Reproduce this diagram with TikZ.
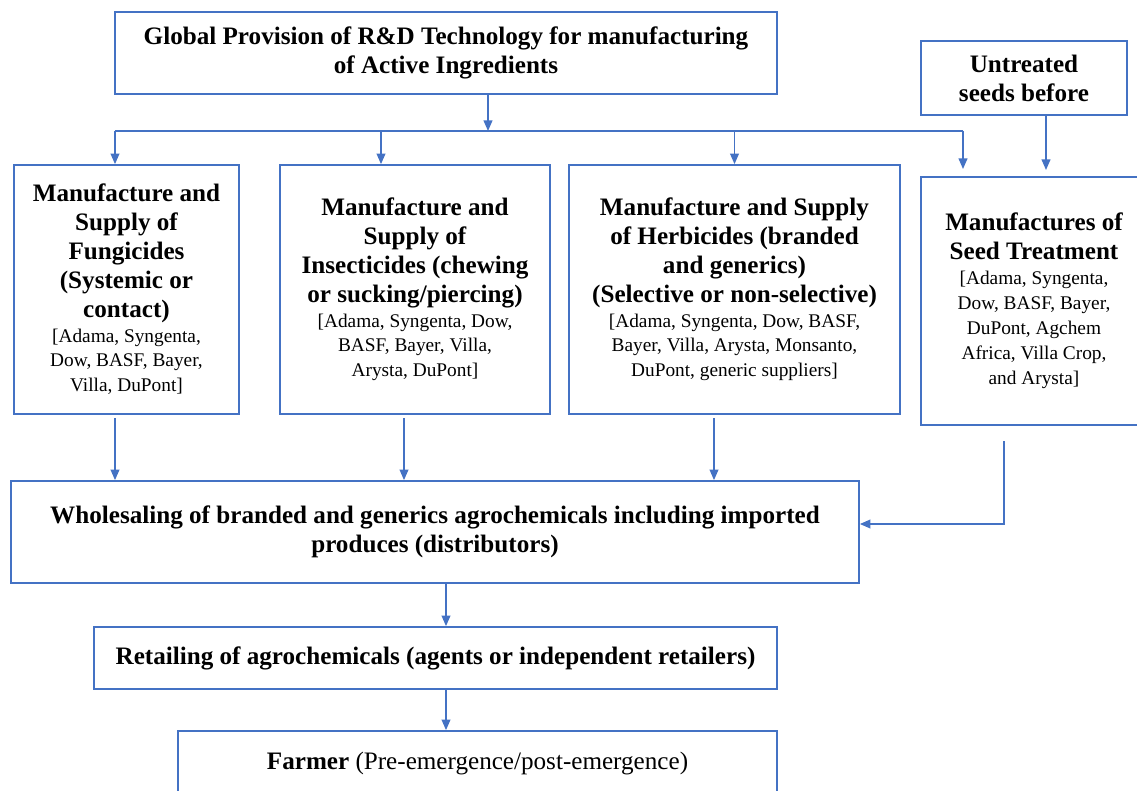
\documentclass[tikz,border=0pt]{standalone}
\usepackage{fontspec}
\setmainfont{Liberation Serif}
\usetikzlibrary{arrows.meta}
\definecolor{flowblue}{RGB}{68,114,196}
\newcommand{\supplierfont}{\mdseries\fontsize{11}{14.2}\selectfont}

\begin{document}
\begin{tikzpicture}[
      font=\bfseries\fontsize{14.3}{16.4}\selectfont,
      box/.style={draw=flowblue, line width=1pt, inner sep=0pt, align=flush center},
      link/.style={-{Triangle[length=6pt,width=5pt]}, draw=flowblue, line width=0.8pt},
      bar/.style={draw=flowblue, line width=0.8pt}
    ]
      \useasboundingbox (0,0) rectangle (22.74,-15.82);
      \node[box, minimum width=13.24cm, minimum height=1.64cm, text width=13cm] (top) at (8.92,-1.06) {Global Provision of R\&D Technology for manufacturing\\ of Active Ingredients};
      \node[box, minimum width=4.12cm, minimum height=1.48cm, text width=4cm] (untreated) at (20.48,-1.56) {Untreated\\ seeds before};
      \node[box, minimum width=4.5cm, minimum height=4.98cm, text width=4.4cm] (fung) at (2.53,-5.79) {Manufacture and\\ Supply of\\ Fungicides\\ (Systemic or\\ contact)\par \supplierfont [Adama, Syngenta,\\ Dow, BASF, Bayer,\\ Villa, DuPont]\par};
      \node[box, minimum width=5.4cm, minimum height=4.98cm, text width=5.3cm] (insect) at (8.30,-5.79) {Manufacture and\\ Supply of\\ Insecticides (chewing\\ or sucking/piercing)\par \supplierfont [Adama, Syngenta, Dow,\\ BASF, Bayer, Villa,\\ Arysta, DuPont]\par};
      \node[box, minimum width=6.62cm, minimum height=4.98cm, text width=6.5cm] (herb) at (14.69,-5.79) {Manufacture and Supply\\ of Herbicides (branded\\ and generics)\\ (Selective or non-selective)\par \supplierfont [Adama, Syngenta, Dow, BASF,\\ Bayer, Villa, Arysta, Monsanto,\\ DuPont, generic suppliers]\par};
      \node[box, minimum width=4.52cm, minimum height=4.96cm, text width=4.4cm] (seed) at (20.68,-6.02) {Manufactures of\\ Seed Treatment\par \supplierfont [Adama, Syngenta,\\ Dow, BASF, Bayer,\\ DuPont, Agchem\\ Africa, Villa Crop,\\ and Arysta]\par};
      \node[box, minimum width=16.96cm, minimum height=2.04cm, text width=16.8cm] (whole) at (8.70,-10.64) {Wholesaling of branded and generics agrochemicals including imported\\ produces (distributors)};
      \node[box, minimum width=13.66cm, minimum height=1.24cm, text width=13.5cm] (retail) at (8.71,-13.16) {Retailing of agrochemicals (agents or independent retailers)};
      \node[box, minimum width=11.98cm, minimum height=1.28cm, text width=11.8cm] (farmer) at (9.55,-15.26) {Farmer \mdseries(Pre-emergence/post-emergence)};
      % distribution bus below the top box
      \coordinate (bus) at (9.76,-2.62);
      \coordinate (busL) at (2.30,-2.62);
      \coordinate (busI) at (7.62,-2.62);
      \coordinate (busR) at (19.26,-2.62);
      \coordinate (seedtip) at (19.26,-3.38);
      \coordinate (untip) at (20.92,-3.40);
      \draw[link] (top.south -| bus) -- (bus);
      \draw[bar] (busL) -- (busR);
      \draw[link] (busL) -- (busL |- fung.north);
      \draw[link] (busI) -- (busI |- insect.north);
      \draw[link] (herb.north |- bus) -- (herb.north);
      \draw[link] (busR) -- (seedtip);
      \draw[link] (untreated.south -| untip) -- (untip);
      % manufacturers to wholesaling
      \coordinate (dropF) at (2.30,-8.36);
      \coordinate (dropI) at (8.08,-8.36);
      \coordinate (dropH) at (14.28,-8.36);
      \coordinate (seedout) at (20.08,-8.82);
      \draw[link] (dropF) -- (dropF |- whole.north);
      \draw[link] (dropI) -- (dropI |- whole.north);
      \draw[link] (dropH) -- (dropH |- whole.north);
      \draw[link] (seedout) |- ([yshift=0.16cm]whole.east);
      % down to the farmer
      \coordinate (spine) at (8.92,-12);
      \draw[link] (whole.south -| spine) -- (retail.north -| spine);
      \draw[link] (retail.south -| spine) -- (farmer.north -| spine);
    \end{tikzpicture}
\end{document}
